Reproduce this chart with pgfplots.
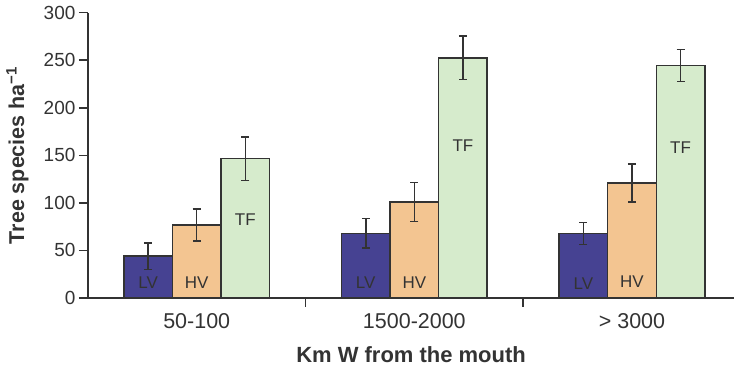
\documentclass[border=0pt]{standalone}
\usepackage{pgfplots}
\usepackage{pgfplotstable}
\pgfplotsset{compat=1.18}
\usepackage{fontspec}
\setmainfont{Liberation Sans}
\definecolor{lv}{RGB}{70,66,146}
\definecolor{hv}{RGB}{243,197,145}
\definecolor{tf}{RGB}{214,235,204}
\definecolor{dk}{RGB}{51,51,51}
\pgfplotstableread{
x y e
0 44 14
1 68 15.5
2 68 11.5
}\lvdata
\pgfplotstableread{
x y e
0 76.7 17
1 101 20.5
2 121 20
}\hvdata
\pgfplotstableread{
x y e
0 146.5 23
1 252.5 23
2 244.5 17
}\tfdata
\pgfplotsset{
  mybar/.style={draw=dk, line width=1.5pt,
    error bars/.cd, y dir=both, y explicit,
    error bar style={draw=dk, line width=1.5pt},
    error mark options={rotate=90, mark size=4pt, draw=dk, line width=1.5pt}},
}
\begin{document}
\begin{tikzpicture}
\begin{axis}[
  scale only axis, width=647pt, height=285.6pt,
  xmin=-0.5, xmax=2.47, ymin=0, ymax=300,
  axis x line=bottom, axis y line=left,
  axis line style={-, draw=dk, line width=1.5pt},
  ybar, bar width=48.6pt,
  ytick={0,50,...,300},
  tick align=outside, major tick length=9pt,
  tick style={draw=dk, line width=1.5pt},
  xtick={0.5,1.5}, xticklabels={},
  extra x ticks={0,1,2},
  extra x tick labels={50-100,1500-2000,> 3000},
  extra x tick style={major tick length=0pt},
  /pgf/number format/assume math mode=true,
  yticklabel style={font=\fontsize{19}{21}\selectfont, text=dk, anchor=east},
  xticklabel style={font=\fontsize{21.5}{23}\selectfont, text=dk, yshift=-12pt},
  every axis y label/.style={at={(axis description cs:0,0.5)}, xshift=-70.5pt, rotate=90, anchor=center, font=\fontsize{21.5}{23}\selectfont\bfseries, text=dk},
  every axis x label/.style={at={(axis description cs:0.5,0)}, yshift=-57pt, anchor=center, font=\fontsize{22}{24}\selectfont\bfseries, text=dk},
  ylabel={Tree species ha\textsuperscript{\char"2212 1}},
  xlabel={Km W from the mouth},
  clip=false,
]
\coordinate (O) at (rel axis cs:0,0);
\addplot[fill=lv, bar shift=-48.6pt, mybar]
  table[x=x, y=y, y error=e]{\lvdata};
\addplot[fill=hv, bar shift=0pt, mybar]
  table[x=x, y=y, y error=e]{\hvdata};
\addplot[fill=tf, bar shift=48.6pt, mybar]
  table[x=x, y=y, y error=e]{\tfdata};
\begin{scope}[every node/.style={font=\fontsize{17}{19}\selectfont, text=dk}]
\node at (axis cs:-0.2234,16.5) {LV};
\node at (axis cs:0,16.5) {HV};
\node at (axis cs:0.2234,82) {TF};
\node at (axis cs:0.7766,16.5) {LV};
\node at (axis cs:1,16.5) {HV};
\node at (axis cs:1.2234,160) {TF};
\node at (axis cs:1.7766,15.5) {LV};
\node at (axis cs:2,17.5) {HV};
\node at (axis cs:2.2234,158) {TF};
\end{scope}
\end{axis}
\path ([shift={(-88pt,-73.7pt)}]O) rectangle ([shift={(647pt,298.3pt)}]O);
\end{tikzpicture}
\end{document}
